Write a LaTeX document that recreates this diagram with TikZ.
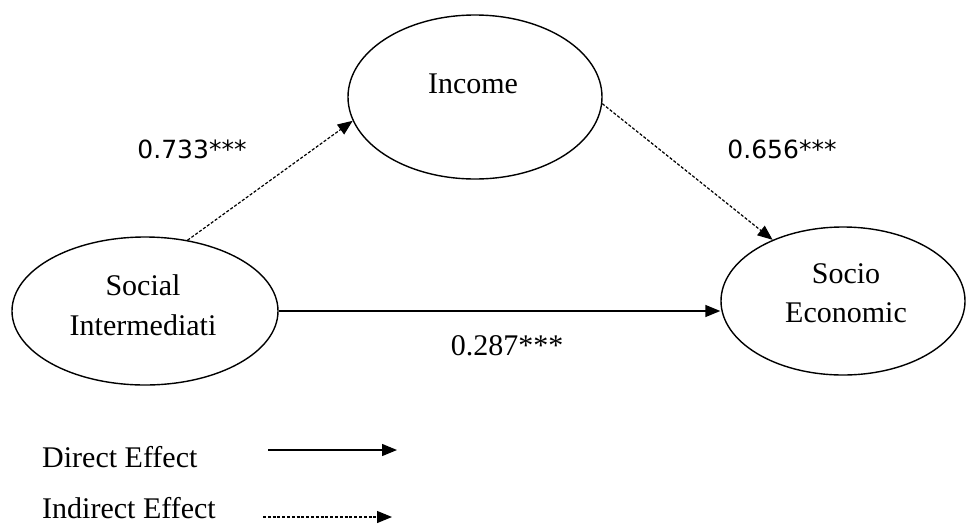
\documentclass[tikz,border=0pt]{standalone}
\usepackage{fontspec}
\setmainfont{Liberation Serif}
\newfontfamily\labsans{DejaVu Sans}
\usetikzlibrary{arrows.meta,shapes.geometric}
\tikzset{
  ell/.style={draw, ellipse, line width=1.4pt, inner sep=0pt},
  txt/.style={anchor=base, inner sep=0pt, font=\fontsize{30}{36}\selectfont},
  sanslab/.style={anchor=base, inner sep=0pt, font=\labsans\fontsize{25}{30}\selectfont},
  direct/.style={line width=1.4pt, -{Triangle[length=15pt,width=12pt]}},
  indirect/.style={line width=1.2pt, dash pattern=on 3pt off 1.8pt, -{Triangle[length=15pt,width=12pt]}}
}
\begin{document}
\begin{tikzpicture}[x=1pt,y=-1pt]
\useasboundingbox (0,0) rectangle (966,523);
% ellipses
\node[ell, minimum width=254pt, minimum height=164pt] (inc) at (475,97) {};
\node[ell, minimum width=266pt, minimum height=148pt] (soc) at (145,311) {};
\node[ell, minimum width=244pt, minimum height=148pt] (eco) at (843,301) {};
% texts
\node[txt] (tinc) at (473,93) {Income};
\node[txt] (tsoc1) at (143,295) {Social};
\node[txt] (tsoc2) at (143,335) {Intermediati};
\node[txt] (teco1) at (846,283) {Socio};
\node[txt] (teco2) at (846,322) {Economic};
% connectors
\draw[indirect] (soc.59) -- (inc.191.6);
\draw[indirect] (inc.-3) -- (eco.139);
\draw[direct] (soc.east) -- (eco.west |- soc.east);
% labels
\node[sanslab] (l1) at (192,158) {0.733***};
\node[sanslab] (l2) at (782,158) {0.656***};
\node[txt] (l3) at (507,355) {0.287***};
% legend
\node[txt, anchor=base west] (ld) at (42,467) {Direct Effect};
\node[txt, anchor=base west] (li) at (42,518) {Indirect Effect};
\coordinate (d1) at (268,450);
\coordinate (d2) at (397,450);
\coordinate (i1) at (263,517);
\coordinate (i2) at (392,517);
\draw[direct] (d1) -- (d2);
\draw[indirect] (i1) -- (i2);
\end{tikzpicture}
\end{document}
